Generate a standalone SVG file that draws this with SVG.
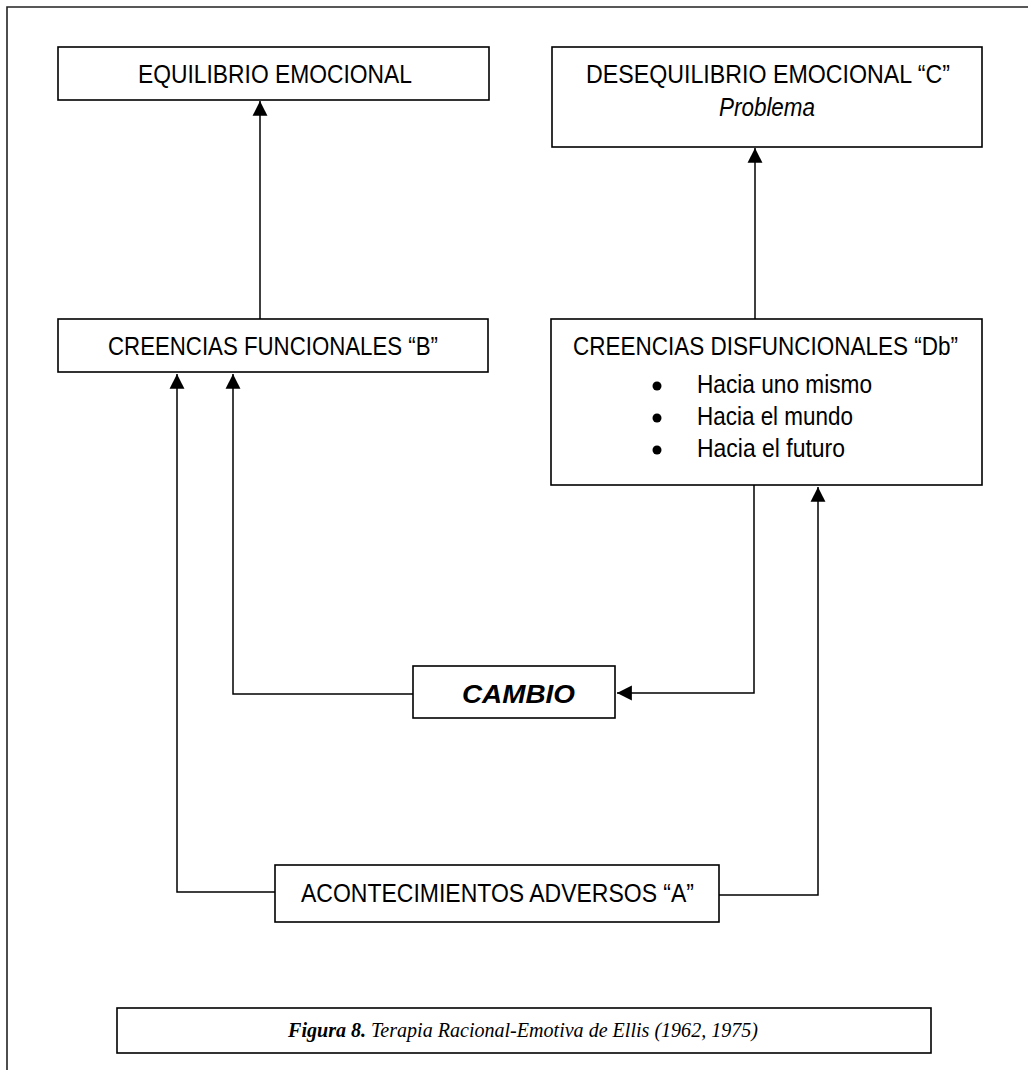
<svg xmlns="http://www.w3.org/2000/svg" width="1028" height="1070" viewBox="0 0 1028 1070">
  <defs>
    <marker id="arrow" markerUnits="userSpaceOnUse" markerWidth="16" markerHeight="16" viewBox="0 0 14 13" refX="13" refY="6.5" orient="auto">
      <path d="M0,0 L13,6.5 L0,13 Z" fill="#000"/>
    </marker>
    <style>
      .box { fill: #fff; stroke: #000; stroke-width: 1.6; }
      .frame { fill: none; stroke: #222; stroke-width: 1.6; }
      .link { fill: none; stroke: #000; stroke-width: 1.5; }
      .lbl { font-family: "Liberation Sans", Arial, sans-serif; font-size: 25px; fill: #000; }
      .it { font-style: italic; }
      .bi { font-style: italic; font-weight: bold; }
      .cap { font-family: "Liberation Serif", "Times New Roman", serif; font-size: 20px; font-style: italic; fill: #000; }
    </style>
  </defs>

  <rect width="1028" height="1070" fill="#fff"/>

  <!-- page frame: only top and left edges fall inside the sheet -->
  <path class="frame" d="M7,1070 L7,7 L1028,7"/>

  <!-- connectors -->
  <g id="connectors">
    <path class="link" d="M260,319 L260,101" marker-end="url(#arrow)"/>
    <path class="link" d="M755,319 L755,148" marker-end="url(#arrow)"/>
    <path class="link" d="M754,485 L754,693 L617,693" marker-end="url(#arrow)"/>
    <path class="link" d="M413,694 L233,694 L233,374" marker-end="url(#arrow)"/>
    <path class="link" d="M275,892 L177,892 L177,374" marker-end="url(#arrow)"/>
    <path class="link" d="M719,895 L818,895 L818,487" marker-end="url(#arrow)"/>
  </g>

  <g id="equilibrio">
    <rect class="box" x="58" y="47" width="431" height="53"/>
    <text class="lbl" x="138" y="83" textLength="274" lengthAdjust="spacingAndGlyphs">EQUILIBRIO EMOCIONAL</text>
  </g>

  <g id="desequilibrio">
    <rect class="box" x="552" y="47" width="430" height="100"/>
    <text class="lbl" x="586" y="83" textLength="364" lengthAdjust="spacingAndGlyphs">DESEQUILIBRIO EMOCIONAL “C”</text>
    <text class="lbl it" x="719" y="116" textLength="96" lengthAdjust="spacingAndGlyphs">Problema</text>
  </g>

  <g id="creencias-funcionales">
    <rect class="box" x="58" y="319" width="430" height="53"/>
    <text class="lbl" x="108" y="355" textLength="330" lengthAdjust="spacingAndGlyphs">CREENCIAS FUNCIONALES “B”</text>
  </g>

  <g id="creencias-disfuncionales">
    <rect class="box" x="551" y="319" width="431" height="166"/>
    <text class="lbl" x="573" y="355" textLength="385" lengthAdjust="spacingAndGlyphs">CREENCIAS DISFUNCIONALES “Db”</text>
    <circle cx="657" cy="386" r="4.5"/>
    <circle cx="657" cy="418" r="4.5"/>
    <circle cx="657" cy="450" r="4.5"/>
    <text class="lbl" x="697" y="393" textLength="175" lengthAdjust="spacingAndGlyphs">Hacia uno mismo</text>
    <text class="lbl" x="697" y="425" textLength="156" lengthAdjust="spacingAndGlyphs">Hacia el mundo</text>
    <text class="lbl" x="697" y="457" textLength="148" lengthAdjust="spacingAndGlyphs">Hacia el futuro</text>
  </g>

  <g id="cambio">
    <rect class="box" x="413" y="666" width="202" height="52"/>
    <text class="lbl bi" x="462" y="703" textLength="113" lengthAdjust="spacingAndGlyphs">CAMBIO</text>
  </g>

  <g id="acontecimientos">
    <rect class="box" x="275" y="865" width="444" height="57"/>
    <text class="lbl" x="301" y="902" textLength="393" lengthAdjust="spacingAndGlyphs">ACONTECIMIENTOS ADVERSOS “A”</text>
  </g>

  <g id="caption">
    <rect class="box" x="117" y="1008" width="814" height="45"/>
    <text class="cap" x="288" y="1037" textLength="470" lengthAdjust="spacingAndGlyphs"><tspan font-weight="bold">Figura 8.</tspan> Terapia Racional-Emotiva de Ellis (1962, 1975)</text>
  </g>
</svg>
